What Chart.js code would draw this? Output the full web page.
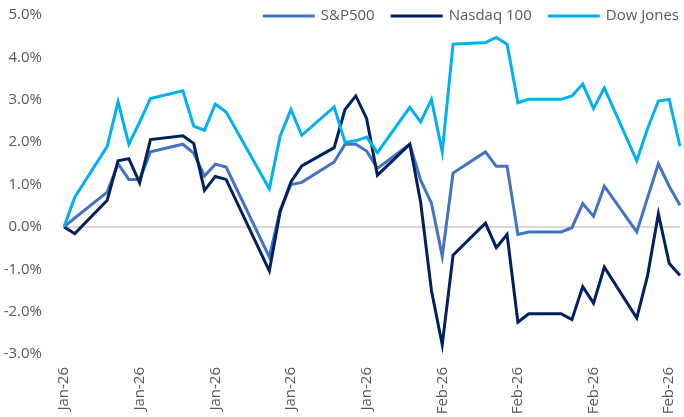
<!DOCTYPE html>
<html lang="en">
<head>
<meta charset="utf-8">
<title>Index performance YTD</title>
<script src="https://cdn.jsdelivr.net/npm/chart.js"></script>
<style>
html,body{margin:0;background:#fff}
#box{width:684px;height:417px;position:relative}
</style>
</head>
<body>
<div id="box"><canvas id="chart"></canvas></div>
<script>
/* ---------- data (% change since start of year) ---------- */
// one label per calendar day, Jan 1 -> Feb 27; weekends/holidays are null
const days = Array(31).fill('Jan-26').concat(Array(27).fill('Feb-26'));

const sp500 = [
  0, 0.21, null, null, 0.82, 1.49, 1.12, 1.12, 1.77, null,
  null, 1.95, 1.74, 1.20, 1.48, 1.41, null, null, null, -0.71,
  0.40, 1.00, 1.05, null, null, 1.53, 1.95, 1.95, 1.79, 1.38,
  null, null, 1.95, 1.10, 0.56, -0.69, 1.27, null, null, 1.77,
  1.43, 1.43, -0.18, -0.12, null, null, -0.12, -0.02, 0.55, 0.25,
  0.96, null, null, -0.12, 0.69, 1.49, 0.96, 0.51
];
const nasdaq100 = [
  0, -0.16, null, null, 0.63, 1.56, 1.61, 1.04, 2.06, null,
  null, 2.15, 1.97, 0.86, 1.19, 1.12, null, null, null, -1.04,
  0.36, 1.06, 1.44, null, null, 1.87, 2.77, 3.09, 2.56, 1.22,
  null, null, 1.95, 0.58, -1.50, -2.78, -0.67, null, null, 0.09,
  -0.49, -0.18, -2.25, -2.05, null, null, -2.05, -2.19, -1.41, -1.80,
  -0.95, null, null, -2.15, -1.15, 0.31, -0.86, -1.15
];
const dowJones = [
  0, 0.70, null, null, 1.90, 2.95, 1.95, 2.47, 3.03, null,
  null, 3.21, 2.38, 2.28, 2.90, 2.71, null, null, null, 0.90,
  2.14, 2.77, 2.16, null, null, 2.83, 2.00, 2.03, 2.12, 1.75,
  null, null, 2.82, 2.48, 3.01, 1.77, 4.31, null, null, 4.35,
  4.47, 4.31, 2.93, 3.01, null, null, 3.01, 3.09, 3.37, 2.79,
  3.28, null, null, 1.56, 2.32, 2.97, 3.01, 1.90
];

const TXT = '#595959';
const FONT = {family: "'Open Sans', sans-serif", size: 15};

/* legend drawn inside the plot, top right (line sample + label) */
const topLegend = {
  id: 'topLegend',
  afterDraw(chart){
    const ctx = chart.ctx;
    const sets = chart.data.datasets;
    ctx.save();
    ctx.font = `${FONT.size}px ${FONT.family}`;
    ctx.textBaseline = 'middle';
    ctx.textAlign = 'left';
    const y = 16;
    let end = chart.width - 5;
    for (let i = sets.length - 1; i >= 0; i--) {
      const w = ctx.measureText(sets[i].label).width;
      const tx = end - w;
      ctx.fillStyle = TXT;
      ctx.fillText(sets[i].label, tx, y);
      ctx.strokeStyle = sets[i].borderColor;
      ctx.lineWidth = 3;
      ctx.beginPath();
      ctx.moveTo(tx - 58, y);
      ctx.lineTo(tx - 6, y);
      ctx.stroke();
      end = tx - 58 - 16;
    }
    ctx.restore();
  }
};

function line(label, data, color, order){
  return {label, data, borderColor: color, backgroundColor: color, borderWidth: 3,
          pointRadius: 0, tension: 0, spanGaps: true, order};
}

new Chart(document.getElementById('chart'), {
  type: 'line',
  data: {
    labels: days,
    datasets: [
      line('S&P500', sp500, '#4472C4', 3),
      line('Nasdaq 100', nasdaq100, '#002060', 2),
      line('Dow Jones', dowJones, '#00B0F0', 1)
    ]
  },
  options: {
    animation: false, responsive: true, maintainAspectRatio: false,
    layout: {padding: {top: 15, right: 4, left: 0, bottom: 0}},
    plugins: {
      tooltip: {enabled: false},
      legend: {display: false}
    },
    scales: {
      x: {
        afterFit: s => { s.height = 63; s.paddingLeft = 0; s.paddingRight = 0; },
        grid: {display: false}, border: {display: false},
        ticks: {
          color: TXT, font: FONT, autoSkip: false,
          minRotation: 90, maxRotation: 90, padding: 5,
          callback(v, i){ return i % 7 === 0 ? this.getLabelForValue(v) : null; }
        }
      },
      y: {
        min: -3, max: 5,
        afterFit: s => { s.width = 64; s.paddingTop = 0; s.paddingBottom = 0; },
        border: {display: false},
        grid: {drawTicks: false, lineWidth: 2,
               color: c => c.tick && c.tick.value === 0 ? '#D9D9D9' : 'rgba(0,0,0,0)'},
        ticks: {stepSize: 1, color: TXT, font: FONT, padding: 22,
                callback: v => v.toFixed(1) + '%'}
      }
    }
  },
  plugins: [topLegend]
});
</script>
</body>
</html>
